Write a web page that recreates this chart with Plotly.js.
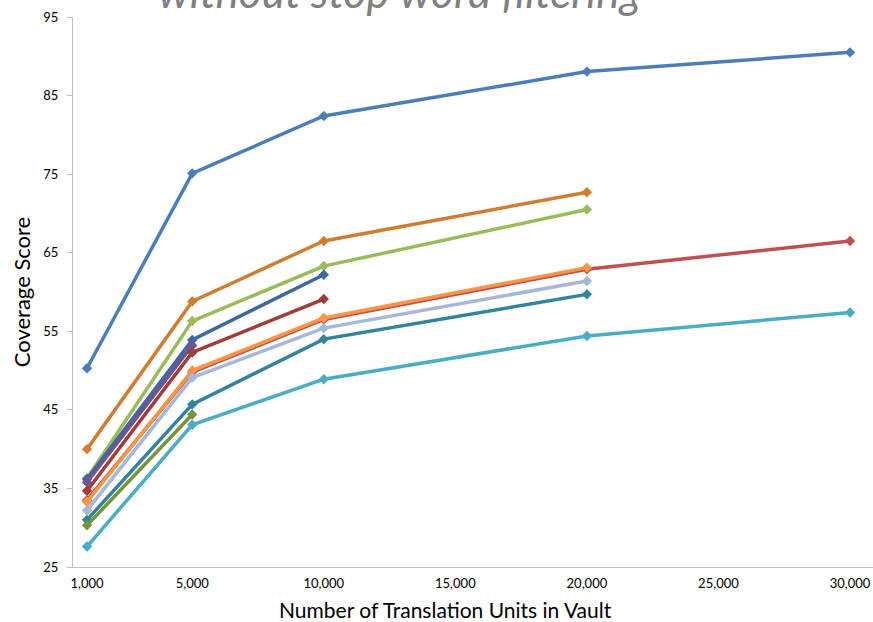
<!DOCTYPE html>
<html>
<head>
<meta charset="utf-8">
<script src="https://cdn.plot.ly/plotly-3.0.1.min.js"></script>
<style>
  html, body { margin: 0; padding: 0; background: #ffffff; }
  #chart { width: 873px; height: 622px; }
</style>
</head>
<body>
<div id="chart"></div>
<script>
// Vault sizes (translation units) at which coverage was measured
const vaultSizes = [1000, 5000, 10000, 20000, 30000];
const xTickLabels = ["1,000", "5,000", "10,000", "15,000", "20,000", "25,000", "30,000"];
const xTickValues = [1000, 5000, 10000, 15000, 20000, 25000, 30000];
const yTickValues = [25, 35, 45, 55, 65, 75, 85, 95];

// Coverage scores per test set (runs stop when the vault is exhausted)
const setA = [50.3, 75.1, 82.4, 88.05, 90.5];
const setB = [40.0, 58.8, 66.5, 72.7];
const setC = [36.3, 56.3, 63.3, 70.5];
const setD = [36.2, 53.9, 62.2];
const setE = [35.8, 53.2];
const setF = [34.7, 52.3, 59.1];
const setG = [33.5, 49.8, 56.5, 62.9, 66.5];
const setH = [33.3, 50.0, 56.7, 63.1];
const setI = [32.2, 49.1, 55.4, 61.4];
const setJ = [31.0, 45.7, 54.0, 59.7];
const setK = [30.3, 44.4];
const setL = [27.6, 43.1, 48.9, 54.4, 57.4];

const seriesList = [
  { y: setA, color: "#4A7EBB" },
  { y: setB, color: "#D07D32" },
  { y: setC, color: "#9BBB59" },
  { y: setD, color: "#3E68A0" },
  { y: setE, color: "#6F5490" },
  { y: setF, color: "#A23C3A" },
  { y: setG, color: "#C0504D" },
  { y: setH, color: "#F79646" },
  { y: setI, color: "#A7B7D9" },
  { y: setJ, color: "#31849B" },
  { y: setK, color: "#77933C" },
  { y: setL, color: "#4BACC6" }
];

const traces = seriesList.map(s => ({
  type: "scatter",
  mode: "lines+markers",
  x: vaultSizes.slice(0, s.y.length),
  y: s.y,
  line: { color: s.color, width: 3.5 },
  marker: { symbol: "diamond", size: 8, color: s.color },
  hoverinfo: "x+y"
}));

const fontFamily = "Lato, 'Liberation Sans', sans-serif";

const layout = {
  width: 873,
  height: 622,
  margin: { l: 73, r: 0, t: 17, b: 55, pad: 0 },
  paper_bgcolor: "#ffffff",
  plot_bgcolor: "#ffffff",
  showlegend: false,
  font: { family: fontFamily, color: "#000000" },
  xaxis: {
    range: [468, 30874],
    tickmode: "array",
    tickvals: xTickValues,
    ticktext: xTickLabels,
    ticks: "",
    showgrid: false,
    zeroline: false,
    showline: true,
    linecolor: "#BFBFBF",
    linewidth: 1,
    ticklabelstandoff: 4,
    tickfont: { size: 13, family: fontFamily, color: "#000000" }
  },
  yaxis: {
    range: [25, 95],
    tickmode: "array",
    tickvals: yTickValues,
    ticks: "outside",
    ticklen: 5,
    tickcolor: "#BFBFBF",
    showgrid: false,
    zeroline: false,
    showline: true,
    linecolor: "#BFBFBF",
    linewidth: 1,
    ticklabelstandoff: 6,
    tickfont: { size: 13, family: fontFamily, color: "#000000" },
    title: {
      text: "Coverage Score",
      font: { size: 22, family: fontFamily, color: "#000000" },
      standoff: 6
    }
  },
  annotations: [
    {
      text: "without stop word filtering",
      xref: "paper",
      yref: "paper",
      x: 0.409,
      y: 0.996,
      xanchor: "center",
      yanchor: "bottom",
      showarrow: false,
      font: { size: 44, family: fontFamily, color: "#808080", style: "italic" }
    },
    {
      text: "Number of Translation Units in Vault",
      xref: "paper",
      yref: "paper",
      x: 0.465,
      y: -0.078,
      xanchor: "center",
      yanchor: "middle",
      showarrow: false,
      font: { size: 21, family: fontFamily, color: "#000000" }
    }
  ]
};

Plotly.newPlot("chart", traces, layout, { displayModeBar: false, staticPlot: true });
</script>
</body>
</html>
